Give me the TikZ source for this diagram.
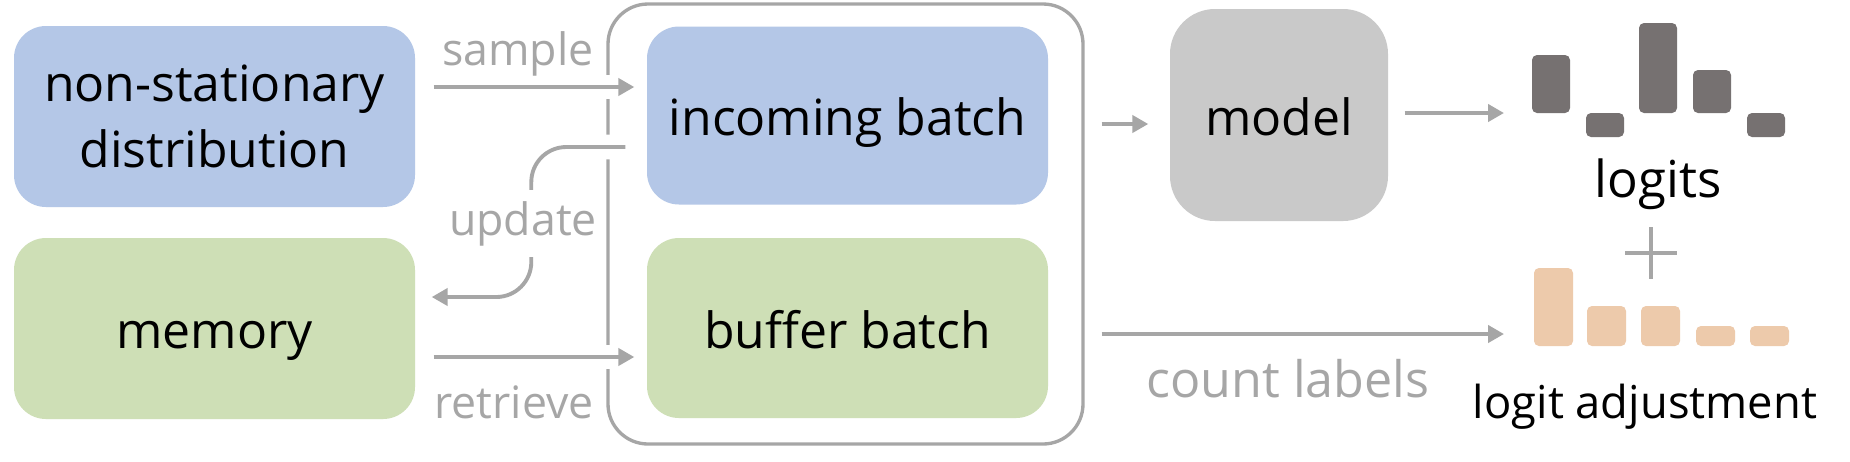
\documentclass[tikz,border=0pt]{standalone}
\usepackage{fontspec}
\setmainfont{Open Sans}
\usetikzlibrary{arrows.meta}
\definecolor{BlueFill}{HTML}{B4C7E7}
\definecolor{GreenFill}{HTML}{CEDFB6}
\definecolor{ModelGray}{HTML}{C9C9C9}
\definecolor{Wire}{HTML}{A6A6A6}
\definecolor{LogitBar}{HTML}{767171}
\definecolor{AdjBar}{HTML}{EDCAAB}

\begin{document}
\begin{tikzpicture}[box/.style={rounded corners=3.2mm,minimum width=4.01cm,align=center,inner sep=0pt,font=\fontsize{14.2}{18.8}\selectfont},oneline/.style={text height=5mm,text depth=1mm},flow/.style={draw=Wire,line width=1.1pt,-{Triangle[length=4.5pt,width=4.8pt]}},bridge/.style={preaction={draw=white,line width=7pt,arrows=-}},tag/.style={text=Wire,inner sep=0pt,font=\fontsize{12.7}{15}\selectfont},bar/.style={rounded corners=0.5mm}]
\fill[white] (0,0) rectangle (18.5,-4.61);
\useasboundingbox (0,0) rectangle (18.5,-4.61);
\node[draw=Wire, line width=0.95pt, rounded corners=4mm, minimum width=4.75cm, minimum height=4.4cm] (frame) at (8.455,-2.24) {};
\node[box, fill=BlueFill, minimum height=1.81cm] (dist) at (2.145,-1.165) {non-stationary\\distribution};
\node[box, oneline, fill=GreenFill, minimum height=1.81cm] (mem) at (2.145,-3.285) {memory};
\node[box, oneline, fill=BlueFill, minimum height=1.78cm] (incoming) at (8.475,-1.155) {incoming batch};
\node[box, oneline, fill=GreenFill, minimum height=1.80cm] (buffer) at (8.475,-3.28) {buffer batch};
\node[box, oneline, fill=ModelGray, rounded corners=4.5mm, minimum width=2.18cm, minimum height=2.12cm] (model) at (12.79,-1.15) {model};
\coordinate (logitsin) at (15.04,-1.13);
\coordinate (adjin) at (15.04,-3.34);
\draw[flow, bridge, shorten <=1.8mm, shorten >=1.2mm] ([yshift=2.95mm]dist.east) -- ([yshift=2.95mm]dist.east -| incoming.west);
\draw[flow, bridge, rounded corners=3.5mm, shorten >=1.6mm] ([xshift=-2.1mm,yshift=-3.15mm]incoming.west) -- ++(-0.94,0) |- ([yshift=3.15mm]mem.east);
\draw[flow, bridge, shorten <=1.8mm, shorten >=1.2mm] ([yshift=-2.85mm]mem.east) -- ([yshift=-2.85mm]mem.east -| buffer.west);
\draw[flow, shorten <=1.7mm, shorten >=2.1mm] ([yshift=-0.9mm]model.west -| frame.east) -- ([yshift=-0.9mm]model.west);
\draw[flow, shorten <=1.6mm] (model.east |- logitsin) -- (logitsin);
\draw[flow, shorten <=1.7mm] (frame.east |- adjin) -- (adjin);
\node[tag, anchor=base] (sampletag) at (5.18,-0.65) {sample};
\node[tag, anchor=base, fill=white, inner ysep=1.1mm] (updatetag) at (5.23,-2.35) {update};
\node[tag, anchor=base] (retrievetag) at (5.14,-4.18) {retrieve};
\node[tag, anchor=base, font=\fontsize{14.3}{17}\selectfont] (counttag) at (12.88,-3.97) {count labels};
\foreach \x/\t/\b in {15.32/0.55/1.13, 15.86/1.13/1.37, 16.39/0.23/1.13, 16.93/0.70/1.13, 17.47/1.13/1.37} {\fill[LogitBar, bar] (\x,-\t) rectangle ({\x+0.38},-\b);}
\foreach \x/\t in {15.34/2.68, 15.87/3.06, 16.41/3.06, 16.96/3.26, 17.50/3.26} {\fill[AdjBar, bar] (\x,-\t) rectangle ({\x+0.39},-3.46);}
\draw[Wire, line width=1.4pt] (16.51,-2.27) -- (16.51,-2.79) (16.25,-2.53) -- (16.77,-2.53);
\node[anchor=base, inner sep=0pt, font=\fontsize{14.5}{17}\selectfont] (logits) at (16.58,-1.97) {logits};
\node[anchor=base, inner sep=0pt, font=\fontsize{12.9}{15}\selectfont] (adjust) at (16.45,-4.18) {logit adjustment};
\end{tikzpicture}
\end{document}
